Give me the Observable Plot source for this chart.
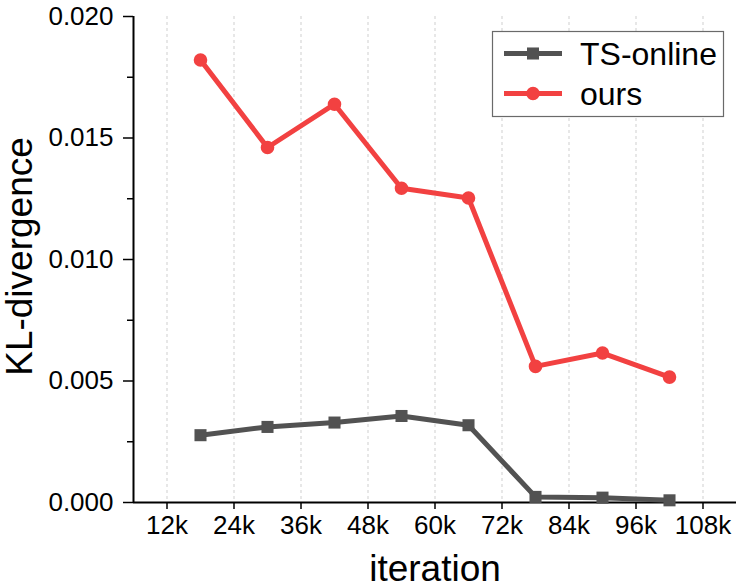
<!DOCTYPE html>
<html>
<head>
<meta charset="utf-8">
<script src="https://cdn.jsdelivr.net/npm/d3@7"></script>
<script src="https://cdn.jsdelivr.net/npm/@observablehq/plot@0.6"></script>
<style>
  html, body { margin: 0; padding: 0; background: #fff; }
  #wrap { position: relative; width: 747px; height: 588px; }
  #legend { position: absolute; left: 0; top: 0; pointer-events: none; }
</style>
</head>
<body>
<div id="wrap"></div>
<script>
const iterations = [18000, 30000, 42000, 54000, 66000, 78000, 90000, 102000];
const tsOnline = [0.00277, 0.00311, 0.00329, 0.00356, 0.00318, 0.00023, 0.00020, 0.00009];
const ours = [0.01821, 0.01461, 0.01639, 0.01293, 0.01253, 0.00560, 0.00615, 0.00516];
const seriesNames = ["TS-online", "ours"];
const seriesColors = ["#525252", "#f24141"];
const seriesSymbols = ["square", "circle"];
const xTicks = [12000, 24000, 36000, 48000, 60000, 72000, 84000, 96000, 108000];
const xTickLabels = ["12k", "24k", "36k", "48k", "60k", "72k", "84k", "96k", "108k"];
const yTicks = [0, 0.005, 0.01, 0.015, 0.02];
const yTickLabels = ["0.000", "0.005", "0.010", "0.015", "0.020"];
const yMinorTicks = [0.0025, 0.0075, 0.0125, 0.0175];

const rows = [];
iterations.forEach((it, i) => rows.push({series: seriesNames[0], iteration: it, value: tsOnline[i]}));
iterations.forEach((it, i) => rows.push({series: seriesNames[1], iteration: it, value: ours[i]}));

const font = "'Liberation Sans', Arial, Helvetica, sans-serif";

const chart = Plot.plot({
  width: 747,
  height: 588,
  marginLeft: 133,
  marginRight: 11,
  marginTop: 16,
  marginBottom: 86,
  style: {fontFamily: font, background: "white", color: "black", overflow: "visible"},
  x: {domain: [6000, 114000]},
  y: {domain: [0, 0.02]},
  color: {domain: seriesNames, range: seriesColors},
  symbol: {domain: seriesNames, range: seriesSymbols},
  marks: [
    Plot.gridX(xTicks, {stroke: "#cfcfcf", strokeOpacity: 1, strokeWidth: 1, strokeDasharray: "3,3"}),
    Plot.axisX(xTicks, {
      tickSize: 7, tickPadding: 6, strokeWidth: 1.5, fontSize: 26, label: null,
      tickFormat: d => xTickLabels[xTicks.indexOf(d)]
    }),
    Plot.axisY(yTicks, {
      tickSize: 10, tickPadding: 10, strokeWidth: 1.5, fontSize: 26, label: null,
      tickFormat: d => yTickLabels[yTicks.indexOf(d)]
    }),
    Plot.axisY(yMinorTicks, {tickSize: 6, strokeWidth: 1.5, label: null, tickFormat: () => ""}),
    Plot.ruleY([0], {stroke: "black", strokeWidth: 2}),
    Plot.ruleX([6000], {stroke: "black", strokeWidth: 2}),
    Plot.line(rows, {x: "iteration", y: "value", z: "series", stroke: "series", strokeWidth: 5, strokeLinejoin: "miter"}),
    Plot.dot(rows, {x: "iteration", y: "value", fill: "series", symbol: "series", r: 6.8, stroke: "none"}),
    Plot.text(["iteration"], {text: d => d, frameAnchor: "bottom", textAnchor: "middle", lineAnchor: "top", dy: 52, fontSize: 37, fill: "black"}),
    Plot.text(["KL-divergence"], {text: d => d, frameAnchor: "left", textAnchor: "middle", rotate: -90, lineAnchor: "top", dx: -128, dy: -3, fontSize: 37, fill: "black"})
  ]
});

const wrap = document.getElementById("wrap");
wrap.appendChild(chart);

// Legend overlay (inside plot area, top right)
const lg = d3.select(wrap).append("svg")
  .attr("id", "legend")
  .attr("width", 747).attr("height", 588)
  .style("font-family", font);
const box = {x: 492.5, y: 31.5, w: 231, h: 85};
lg.append("rect")
  .attr("x", box.x).attr("y", box.y).attr("width", box.w).attr("height", box.h)
  .attr("fill", "white").attr("stroke", "#6a6a6a").attr("stroke-width", 1.2);
const rowsY = [53.5, 93.5];
seriesNames.forEach((name, i) => {
  const g = lg.append("g").attr("transform", `translate(0,${rowsY[i]})`);
  g.append("line").attr("x1", 504).attr("x2", 562).attr("y1", 0).attr("y2", 0)
    .attr("stroke", seriesColors[i]).attr("stroke-width", 5);
  g.append("path")
    .attr("transform", "translate(533,0)")
    .attr("d", d3.symbol(seriesSymbols[i] === "square" ? d3.symbolSquare : d3.symbolCircle, 6.8 * 6.8 * Math.PI)())
    .attr("fill", seriesColors[i]);
  g.append("text").attr("x", 580).attr("y", 11.5)
    .attr("font-size", 32).attr("fill", "black").text(name);
});
</script>
</body>
</html>
